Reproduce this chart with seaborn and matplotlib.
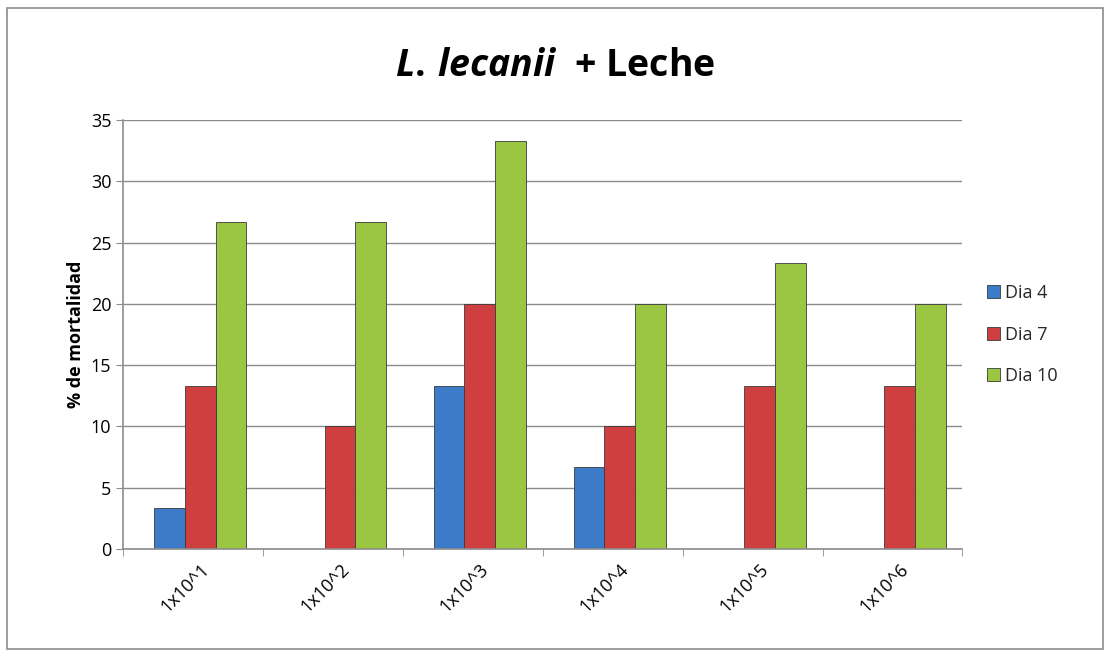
import numpy as np
import pandas as pd
import matplotlib
matplotlib.use('Agg')
import matplotlib.pyplot as plt
from matplotlib.patches import Rectangle
import seaborn as sns

sns.set_style('white')
plt.rcParams['font.family'] = ['Open Sans', 'DejaVu Sans']
plt.rcParams['mathtext.fontset'] = 'custom'
plt.rcParams['mathtext.it'] = 'Open Sans:italic:bold'
plt.rcParams['mathtext.rm'] = 'Open Sans:bold'

concentraciones = ['1x10^1', '1x10^2', '1x10^3', '1x10^4', '1x10^5', '1x10^6']
dia4 = [3.33, 0, 13.33, 6.67, 0, 0]
dia7 = [13.33, 10, 20, 10, 13.33, 13.33]
dia10 = [26.67, 26.67, 33.33, 20, 23.33, 20]
series = ['Dia 4', 'Dia 7', 'Dia 10']
colores = ['#3b7bc8', '#d03f3f', '#9bc642']

df = pd.DataFrame({
    'conc': concentraciones * 3,
    'mort': dia4 + dia7 + dia10,
    'dia': [s for s in series for _ in concentraciones],
})

fig = plt.figure(figsize=(11.1, 6.56), dpi=100)
ax = fig.add_axes([0.111, 0.163, 0.756, 0.654])

sns.barplot(data=df, x='conc', y='mort', hue='dia', hue_order=series,
            palette=colores, width=0.66, dodge=True, gap=0, ax=ax,
            edgecolor='#3a3a3a', linewidth=0.6, saturation=1, legend=True)

ax.set_ylim(0, 35)
ax.set_yticks(range(0, 36, 5))
ax.set_xlim(-0.55, 5.45)
ax.yaxis.grid(True, color='#8c8c8c', linewidth=1)
ax.set_axisbelow(True)
for s in ['top', 'right']:
    ax.spines[s].set_visible(False)
for s in ['left', 'bottom']:
    ax.spines[s].set_color('#8c8c8c')
    ax.spines[s].set_linewidth(1.2)

ax.tick_params(axis='y', length=5, color='#8c8c8c', labelsize=13, left=True,
               labelcolor='black')
ax.set_xticks(range(6))
ax.set_xticklabels(concentraciones, rotation=45, fontsize=13, ha='right',
                   rotation_mode='anchor', color='black')
ax.tick_params(axis='x', length=0, pad=8)
ax.set_xticks(np.arange(-0.55, 6, 1), minor=True)
ax.tick_params(axis='x', which='minor', length=5, color='#8c8c8c', bottom=True)
ax.set_xlabel('')
ax.set_ylabel('% de mortalidad', fontsize=13, fontweight='bold', color='black')

fig.text(0.5, 0.9, r'$\mathit{L.\,lecanii}$  + Leche', ha='center',
         va='center', fontsize=27, fontweight='bold', color='black')

leg = ax.legend(loc='center left', bbox_to_anchor=(1.01, 0.5), frameon=False,
                fontsize=13, handlelength=0.7, handleheight=0.7,
                labelspacing=1.3, handletextpad=0.3)

fig.patches.append(Rectangle((0.006, 0.01), 0.988, 0.978, transform=fig.transFigure,
                             fill=False, edgecolor='#8c8c8c', linewidth=1.2))

fig.savefig('out.png', dpi=100)
